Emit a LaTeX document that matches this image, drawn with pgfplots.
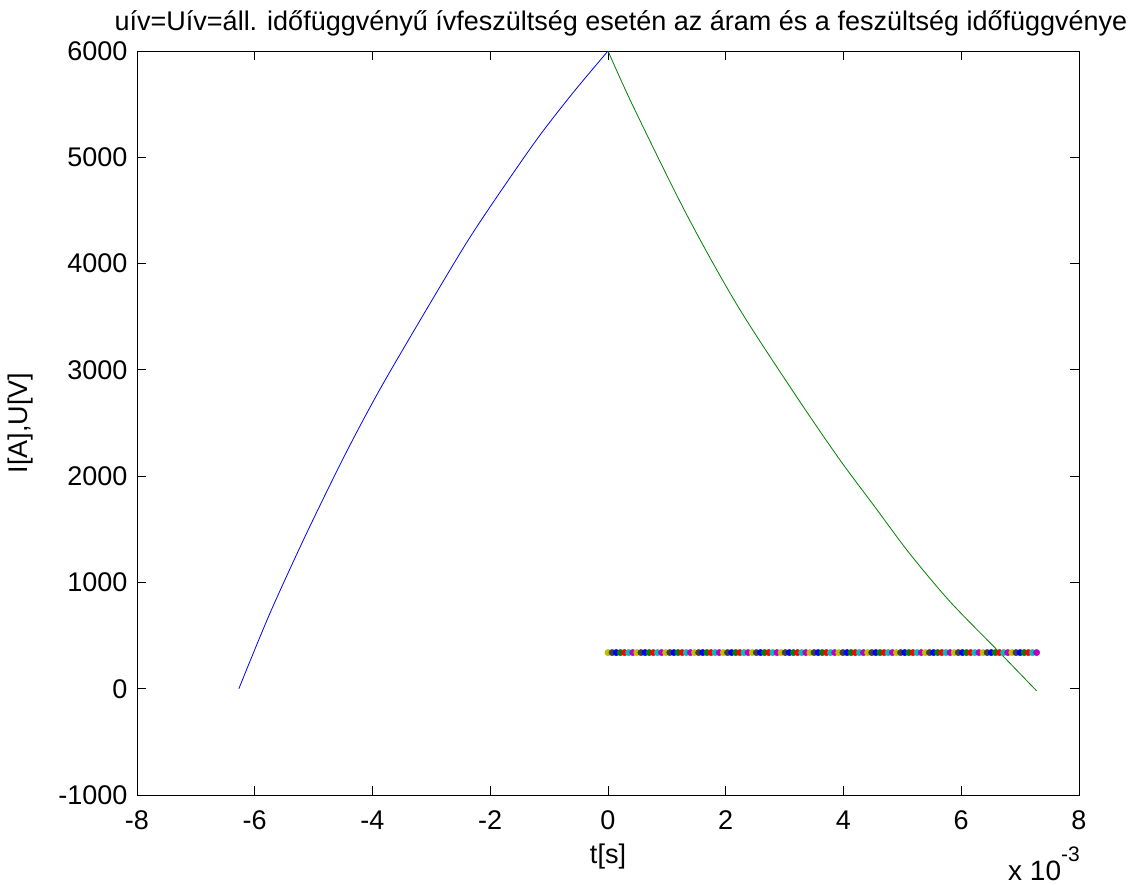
\documentclass[border=0pt]{standalone}
\usepackage{fontspec}
\setmainfont{Liberation Sans}
\usepackage{pgfplots}
\pgfplotsset{compat=1.18}
\definecolor{mblue}{rgb}{0,0,1}
\definecolor{mgreen}{rgb}{0,0.5,0}
\definecolor{mred}{rgb}{1,0,0}
\definecolor{mcyan}{rgb}{0,0.75,0.75}
\definecolor{mmag}{rgb}{0.75,0,0.75}
\definecolor{molive}{rgb}{0.75,0.75,0}
\definecolor{mgray}{rgb}{0.25,0.25,0.25}
\begin{document}
\begin{tikzpicture}
\begin{axis}[
  scale only axis,
  width=942pt, height=744pt,
  xmin=-8, xmax=8, ymin=-1000, ymax=6000,
  xtick={-8,-6,-4,-2,0,2,4,6,8},
  ytick={-1000,0,1000,2000,3000,4000,5000,6000},
  tick align=inside,
  tick pos=both,
  major tick length=9pt,
  every tick/.style={black, line width=0.8pt},
  axis line style={line width=0.8pt},
  tick label style={font=\fontsize{27}{31}\selectfont},
  xticklabel style={yshift=-12pt},
  yticklabel style={xshift=-6pt},
  /pgf/number format/assume math mode=true,
  /pgf/number format/1000 sep={},
  title={uív=Uív=áll. időfüggvényű ívfeszültség esetén az áram és a feszültség időfüggvénye},
  title style={font=\fontsize{27}{31}\selectfont, at={(axis description cs:0.5,1)}, anchor=center, yshift=22pt, xshift=13pt},
  xlabel={t[s]}, ylabel={I[A],U[V]},
  xlabel style={font=\fontsize{27}{31}\selectfont, at={(axis description cs:0.5,0)}, anchor=center, yshift=-62pt},
  ylabel style={font=\fontsize{27}{31}\selectfont, at={(axis description cs:-0.124,0.5)}, anchor=center},
  scatter/classes={
    a={mark=*, draw=molive, fill=molive},
    b={mark=*, draw=mgray, fill=mgray},
    c={mark=*, draw=mblue, fill=mblue},
    d={mark=*, draw=mgreen, fill=mgreen},
    e={mark=*, draw=mred, fill=mred},
    f={mark=*, draw=mcyan, fill=mcyan},
    g={mark=*, draw=mmag, fill=mmag}},
]
\addplot[scatter, only marks, scatter src=explicit symbolic, mark size=3.2pt] coordinates {
(0,340)[a] (0.07,340)[b] (0.14,340)[c] (0.21,340)[d] (0.28,340)[e] (0.35,340)[f] (0.42,340)[g]
(0.49,340)[a] (0.56,340)[b] (0.63,340)[c] (0.70,340)[d] (0.77,340)[e] (0.84,340)[f] (0.91,340)[g]
(0.98,340)[a] (1.05,340)[b] (1.12,340)[c] (1.19,340)[d] (1.26,340)[e] (1.33,340)[f] (1.40,340)[g]
(1.47,340)[a] (1.54,340)[b] (1.61,340)[c] (1.68,340)[d] (1.75,340)[e] (1.82,340)[f] (1.89,340)[g]
(1.96,340)[a] (2.03,340)[b] (2.10,340)[c] (2.17,340)[d] (2.24,340)[e] (2.31,340)[f] (2.38,340)[g]
(2.45,340)[a] (2.52,340)[b] (2.59,340)[c] (2.66,340)[d] (2.73,340)[e] (2.80,340)[f] (2.87,340)[g]
(2.94,340)[a] (3.01,340)[b] (3.08,340)[c] (3.15,340)[d] (3.22,340)[e] (3.29,340)[f] (3.36,340)[g]
(3.43,340)[a] (3.50,340)[b] (3.57,340)[c] (3.64,340)[d] (3.71,340)[e] (3.78,340)[f] (3.85,340)[g]
(3.92,340)[a] (3.99,340)[b] (4.06,340)[c] (4.13,340)[d] (4.20,340)[e] (4.27,340)[f] (4.34,340)[g]
(4.41,340)[a] (4.48,340)[b] (4.55,340)[c] (4.62,340)[d] (4.69,340)[e] (4.76,340)[f] (4.83,340)[g]
(4.90,340)[a] (4.97,340)[b] (5.04,340)[c] (5.11,340)[d] (5.18,340)[e] (5.25,340)[f] (5.32,340)[g]
(5.39,340)[a] (5.46,340)[b] (5.53,340)[c] (5.60,340)[d] (5.67,340)[e] (5.74,340)[f] (5.81,340)[g]
(5.88,340)[a] (5.95,340)[b] (6.02,340)[c] (6.09,340)[d] (6.16,340)[e] (6.23,340)[f] (6.30,340)[g]
(6.37,340)[a] (6.44,340)[b] (6.51,340)[c] (6.58,340)[d] (6.65,340)[e] (6.72,340)[f] (6.79,340)[g]
(6.86,340)[a] (6.93,340)[b] (7.00,340)[c] (7.07,340)[d] (7.14,340)[e] (7.21,340)[f] (7.28,340)[g]
};
\addplot[mblue, line width=0.8pt, smooth] coordinates {
(-6.27,0) (-5.74,712) (-5.12,1462) (-4.44,2230) (-3.82,2870) (-2.87,3767) (-2.32,4268) (-1.73,4755) (-1.16,5205) (-0.59,5610) (0,6000)
};
\addplot[mgreen, line width=0.8pt, smooth] coordinates {
(0,6000) (0.43,5476) (1.34,4457) (2.21,3594) (3.2,2750) (3.94,2152) (4.51,1728) (5.12,1274) (5.81,819) (6.61,364) (7.28,-20)
};
\end{axis}
\node[font=\fontsize{28}{32}\selectfont, anchor=base west, inner sep=0pt] at ([shift={(-71pt,-86pt)}]current axis.south east) {x 10\raisebox{19pt}{\fontsize{21}{21}\selectfont -3}};
\pgfresetboundingbox
\path (current axis.south west) ++(-137pt,-90pt) rectangle ++(1130pt,885pt);
\end{tikzpicture}
\end{document}
